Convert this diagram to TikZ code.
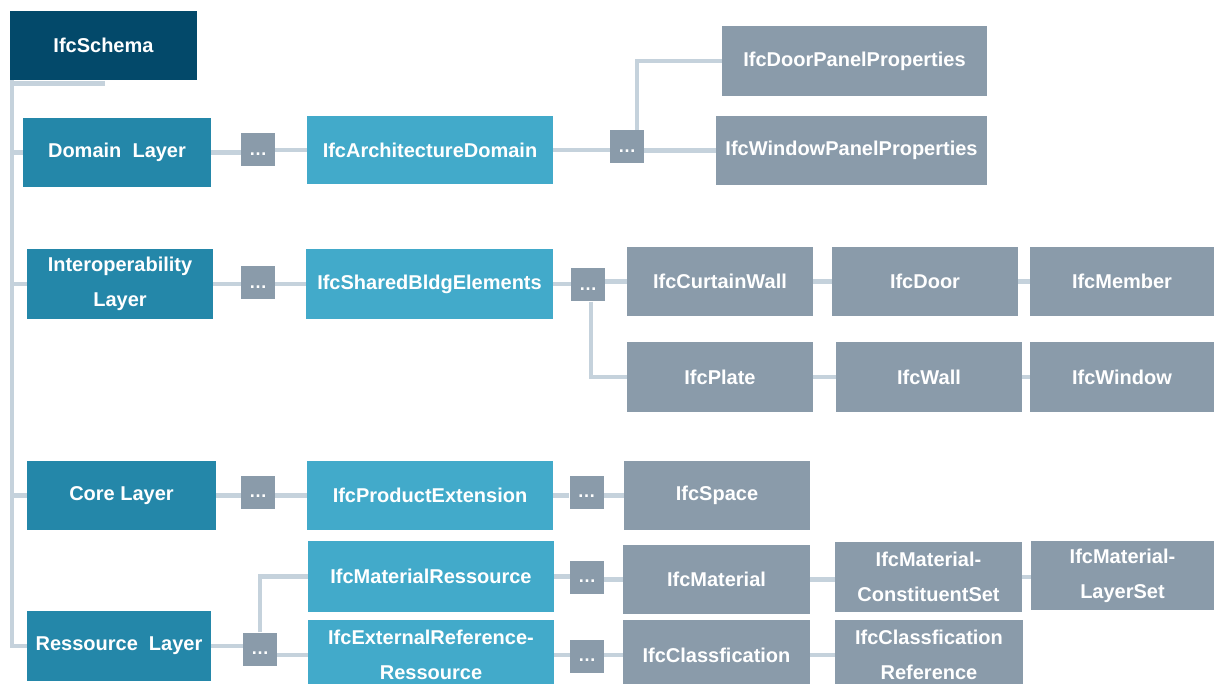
\documentclass[tikz,border=0pt]{standalone}
\usepackage{fontspec}
\setmainfont{Liberation Sans}
\usetikzlibrary{backgrounds}
\definecolor{schemaC}{HTML}{03496A}
\definecolor{layerC}{HTML}{2487A9}
\definecolor{domainC}{HTML}{42AACA}
\definecolor{leafC}{HTML}{8A9BAA}
\definecolor{connC}{HTML}{C5D2DC}
\begin{document}
\begin{tikzpicture}[x=1pt,y=-1pt,
  box/.style={rectangle, inner sep=0pt, text=white, align=center,
    font=\bfseries\fontsize{20}{35}\selectfont},
  sz/.style 2 args={minimum width=#1pt, minimum height=#2pt},
  schemabox/.style={box, fill=schemaC},
  layerbox/.style={box, fill=layerC},
  dombox/.style={box, fill=domainC},
  leafbox/.style={box, fill=leafC},
  morebox/.style={box, fill=leafC, sz={34}{33}, text height=11pt, text depth=0pt,
    font=\bfseries\fontsize{18}{18}\selectfont},
  conn/.style={draw=connC, line width=4.5pt}]
\useasboundingbox (0,0) rectangle (1214,684);
\clip (0,0) rectangle (1214,684);

% schema and layers
\node[schemabox, sz={187}{69}] (schema) at (103.5,45.5) {IfcSchema};
\node[layerbox, sz={188}{69}] (domL) at (117,152.5) {Domain\ \ Layer};
\node[layerbox, sz={186}{70}] (interL) at (120,284) {Interoperability\\Layer};
\node[layerbox, sz={189}{69}] (coreL) at (121.5,495.5) {Core Layer};
\node[layerbox, sz={184}{70}] (resL) at (119,646) {Ressource\ \ Layer};

% domain layer branch
\node[morebox] (dA1) at (258,150) {…};
\node[dombox, sz={246}{68}] (arch) at (430,150) {IfcArchitectureDomain};
\node[morebox] (dA2) at (627,147) {…};
\node[leafbox, sz={265}{70}] (doorPP) at (854.5,61) {IfcDoorPanelProperties};
\node[leafbox, sz={271}{69}] (winPP) at (851.5,150.5) {IfcWindowPanelProperties};

% interoperability layer branch
\node[morebox] (dB1) at (258,283) {…};
\node[dombox, sz={247}{70}] (shared) at (429.5,284) {IfcSharedBldgElements};
\node[morebox] (dB2) at (588,285) {…};
\node[leafbox, sz={186}{69}] (curtain) at (720,281.5) {IfcCurtainWall};
\node[leafbox, sz={186}{69}] (door) at (925,281.5) {IfcDoor};
\node[leafbox, sz={184}{69}] (member) at (1122,281.5) {IfcMember};
\node[leafbox, sz={186}{70}] (plate) at (720,377) {IfcPlate};
\node[leafbox, sz={186}{70}] (wall) at (929,377) {IfcWall};
\node[leafbox, sz={184}{70}] (window) at (1122,377) {IfcWindow};

% core layer branch
\node[morebox] (dC1) at (258,492) {…};
\node[dombox, sz={246}{69}] (prodExt) at (430,495.5) {IfcProductExtension};
\node[morebox] (dC2) at (586.5,492) {…};
\node[leafbox, sz={186}{69}] (space) at (717,495.5) {IfcSpace};

% resource layer branch
\node[morebox] (dD0) at (260,649) {…};
\node[dombox, sz={246}{71}] (matRes) at (431,576.5) {IfcMaterialRessource};
\node[morebox] (dD1) at (587,577) {…};
\node[leafbox, sz={187}{69}] (material) at (716.5,579.5) {IfcMaterial};
\node[leafbox, sz={187}{70}] (matCS) at (928.5,577) {IfcMaterial-\\ConstituentSet};
\node[leafbox, sz={183}{69}] (matLS) at (1122.5,575.5) {IfcMaterial-\\LayerSet};
\node[dombox, sz={246}{70}] (extRef) at (431,655) {IfcExternalReference-\\Ressource};
\node[morebox] (dE1) at (587,656) {…};
\node[leafbox, sz={187}{70}] (classf) at (716.5,655) {IfcClassfication};
\node[leafbox, sz={188}{70}] (classfRef) at (929,655) {IfcClassfication\\Reference};

% connectors behind the boxes
\begin{scope}[on background layer]
  % trunk from the schema to each layer
  \draw[conn] ([yshift=-3.5pt]schema.south west) -- ([xshift=1pt,yshift=-3.5pt]schema.south);
  \draw[conn] ([xshift=2pt]schema.south west) |- (domL.west);
  \draw[conn] ([xshift=2pt]schema.south west) |- (interL.west);
  \draw[conn] ([xshift=2pt]schema.south west) |- (coreL.west);
  \draw[conn] ([xshift=2pt]schema.south west) |- (resL.west);
  % domain layer
  \draw[conn] (domL.east) -- (domL.east -| dA1.west);
  \draw[conn] (dA1.west |- arch.west) -- (arch.west);
  \draw[conn] (arch.east) -- (arch.east -| dA2.west);
  \draw[conn] (dA2.east |- winPP.west) -- (winPP.west);
  \draw[conn] ([xshift=10pt]dA2.north) |- (doorPP.west);
  % interoperability layer
  \draw[conn] (interL.east) -- (interL.east -| dB1.west);
  \draw[conn] (dB1.east |- shared.west) -- (shared.west);
  \draw[conn] (shared.east) -- (shared.east -| dB2.west);
  \draw[conn] (dB2.east |- curtain.west) -- (curtain.west);
  \draw[conn] (curtain) -- (door);
  \draw[conn] (door) -- (member);
  \draw[conn] ([xshift=3pt]dB2.south) |- (plate.west);
  \draw[conn] (plate) -- (wall);
  \draw[conn] (wall) -- (window);
  % core layer
  \draw[conn] (coreL.east) -- (coreL.east -| dC1.west);
  \draw[conn] (dC1.east |- prodExt.west) -- (prodExt.west);
  \draw[conn] (prodExt.east) -- (prodExt.east -| dC2.west);
  \draw[conn] (dC2.east |- space.west) -- (space.west);
  % resource layer
  \draw[conn] (resL.east) -- (resL.east -| dD0.west);
  \draw[conn] (dD0.north) |- (matRes.west);
  \draw[conn] (dD0.east |- extRef.west) -- (extRef.west);
  \draw[conn] (matRes.east) -- (matRes.east -| dD1.west);
  \draw[conn] (dD1.east |- material.west) -- (material.west);
  \draw[conn] (material.east) -- (material.east -| matCS.west);
  \draw[conn] (matCS.east) -- (matCS.east -| matLS.west);
  \draw[conn] (extRef.east) -- (extRef.east -| dE1.west);
  \draw[conn] (dE1.east |- classf.west) -- (classf.west);
  \draw[conn] (classf.east) -- (classf.east -| classfRef.west);
\end{scope}
\end{tikzpicture}
\end{document}
